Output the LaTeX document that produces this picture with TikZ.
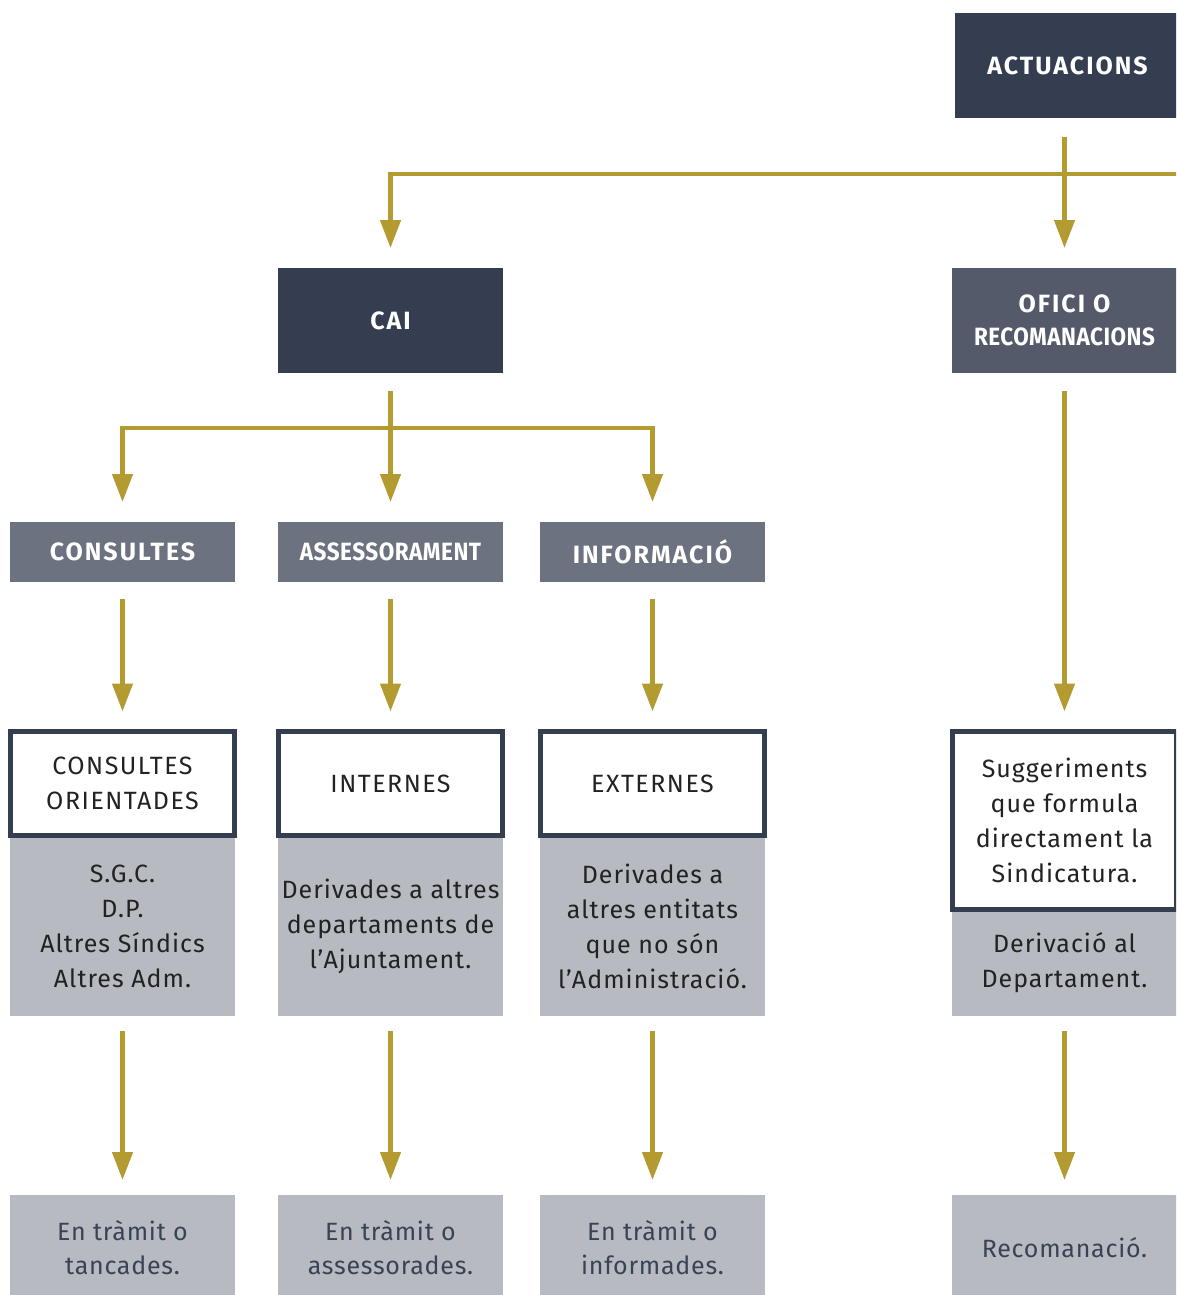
\documentclass[tikz,border=0pt]{standalone}
\usepackage{fontspec}
\setmainfont{Fira Sans}
\newfontfamily\condfont[FakeStretch=0.9]{Fira Sans}
\usetikzlibrary{arrows.meta}
\definecolor{navy}{HTML}{353D50}
\definecolor{slate}{HTML}{545A6A}
\definecolor{hdr}{HTML}{6D7280}
\definecolor{lgray}{HTML}{B8BAC2}
\definecolor{gold}{HTML}{B39A31}
\definecolor{ink}{HTML}{222222}
\definecolor{bink}{HTML}{3A4256}
\begin{document}
\begin{tikzpicture}[x=1pt,y=-1pt,
  box/.style={inner sep=0pt, outer sep=0pt, minimum width=225pt, align=center, anchor=center},
  darkbox/.style={box, fill=navy, minimum height=105pt, text=white,
    font=\fontsize{25}{35}\selectfont\bfseries\addfontfeature{LetterSpace=8}},
  hdrbox/.style={box, fill=hdr, minimum height=60pt, text=white,
    font=\fontsize{25}{35}\selectfont\bfseries\addfontfeature{LetterSpace=8}},
  whitebox/.style={box, fill=white, draw=navy, line width=5pt, minimum width=224pt, text=ink,
    font=\fontsize{25}{35}\selectfont\addfontfeature{LetterSpace=6}},
  graybox/.style={box, fill=lgray, text=ink, font=\fontsize{25}{35}\selectfont\addfontfeature{LetterSpace=4}},
  endbox/.style={box, fill=lgray, minimum height=105pt, text=bink, font=\fontsize{25}{34}\selectfont\addfontfeature{LetterSpace=3}},
  arr/.style={draw=gold, line width=4.5pt, -{Triangle[width=20pt,length=28pt]}}
]
\clip (0,0) rectangle (1176,1295);
\fill[white] (0,0) rectangle (1176,1295);

% top level
\node[darkbox] (act) at (1067.5,65.5) {ACTUACIONS};
\node[darkbox] (cai) at (390.5,320.5) {CAI};
\node[darkbox, fill=slate] (ofi) at (1064.5,320.5) {OFICI O\\[-2pt]{\condfont\bfseries\addfontfeature{LetterSpace=2}RECOMANACIONS}};

% headers
\node[hdrbox] (con) at (122.5,552) {CONSULTES};
\node[hdrbox] (ase) at (390.5,552) {{\condfont\bfseries\addfontfeature{LetterSpace=2}ASSESSORAMENT}};
\node[hdrbox] (inf) at (652.5,552) {INFORMACIÓ};

% gray description boxes
\node[graybox, minimum height=180pt] (gco) at (122.5,926) {S.G.C.\\D.P.\\Altres Síndics\\Altres Adm.};
\node[graybox, minimum height=180pt] (gint) at (390.5,926) {Derivades a altres\\departaments de\\l’Ajuntament.};
\node[graybox, minimum height=180pt] (gext) at (652.5,926) {Derivades a\\altres entitats\\que no són\\l’Administració.};
\node[graybox, minimum height=106pt] (gsug) at (1064.5,963) {Derivació al\\Departament.};

% white boxes
\node[whitebox, minimum height=104pt] (co) at (122.5,783.5) {CONSULTES\\ORIENTADES};
\node[whitebox, minimum height=104pt] (int) at (390.5,783.5) {INTERNES};
\node[whitebox, minimum height=104pt] (ext) at (652.5,783.5) {EXTERNES};
\node[whitebox, minimum height=178pt, font=\fontsize{25}{35}\selectfont\addfontfeature{LetterSpace=4}] (sug) at (1064.5,820.5) {Suggeriments\\que formula\\directament la\\Sindicatura.};

% end boxes
\node[endbox] (bco) at (122.5,1247.5) {En tràmit o\\tancades.};
\node[endbox] (bint) at (390.5,1247.5) {En tràmit o\\assessorades.};
\node[endbox] (bext) at (652.5,1247.5) {En tràmit o\\informades.};
\node[endbox] (bsug) at (1064.5,1247.5) {Recomanació.};

% connectors
\coordinate (jr) at (1200,174);
\coordinate (cj) at (390.5,428);
\draw[arr, shorten >=20pt] (jr) -| (cai.north);
\draw[arr, shorten <=19pt, shorten >=20pt] (ofi.north |- act.south) -- (ofi.north);
\draw[arr, shorten <=18pt, shorten >=20pt] (cai.south) -- (ase.north);
\draw[arr, shorten >=20pt] (cj) -| (con.north);
\draw[arr, shorten >=20pt] (cj) -| (inf.north);
\draw[arr, shorten <=17pt, shorten >=20pt] (con.south) -- (co.north);
\draw[arr, shorten <=17pt, shorten >=20pt] (ase.south) -- (int.north);
\draw[arr, shorten <=17pt, shorten >=20pt] (inf.south) -- (ext.north);
\draw[arr, shorten <=18pt, shorten >=20pt] (ofi.south) -- (sug.north);
\draw[arr, shorten <=15pt, shorten >=15pt] (gco.south) -- (bco.north);
\draw[arr, shorten <=15pt, shorten >=15pt] (gint.south) -- (bint.north);
\draw[arr, shorten <=15pt, shorten >=15pt] (gext.south) -- (bext.north);
\draw[arr, shorten <=15pt, shorten >=15pt] (gsug.south) -- (bsug.north);
\end{tikzpicture}
\end{document}
